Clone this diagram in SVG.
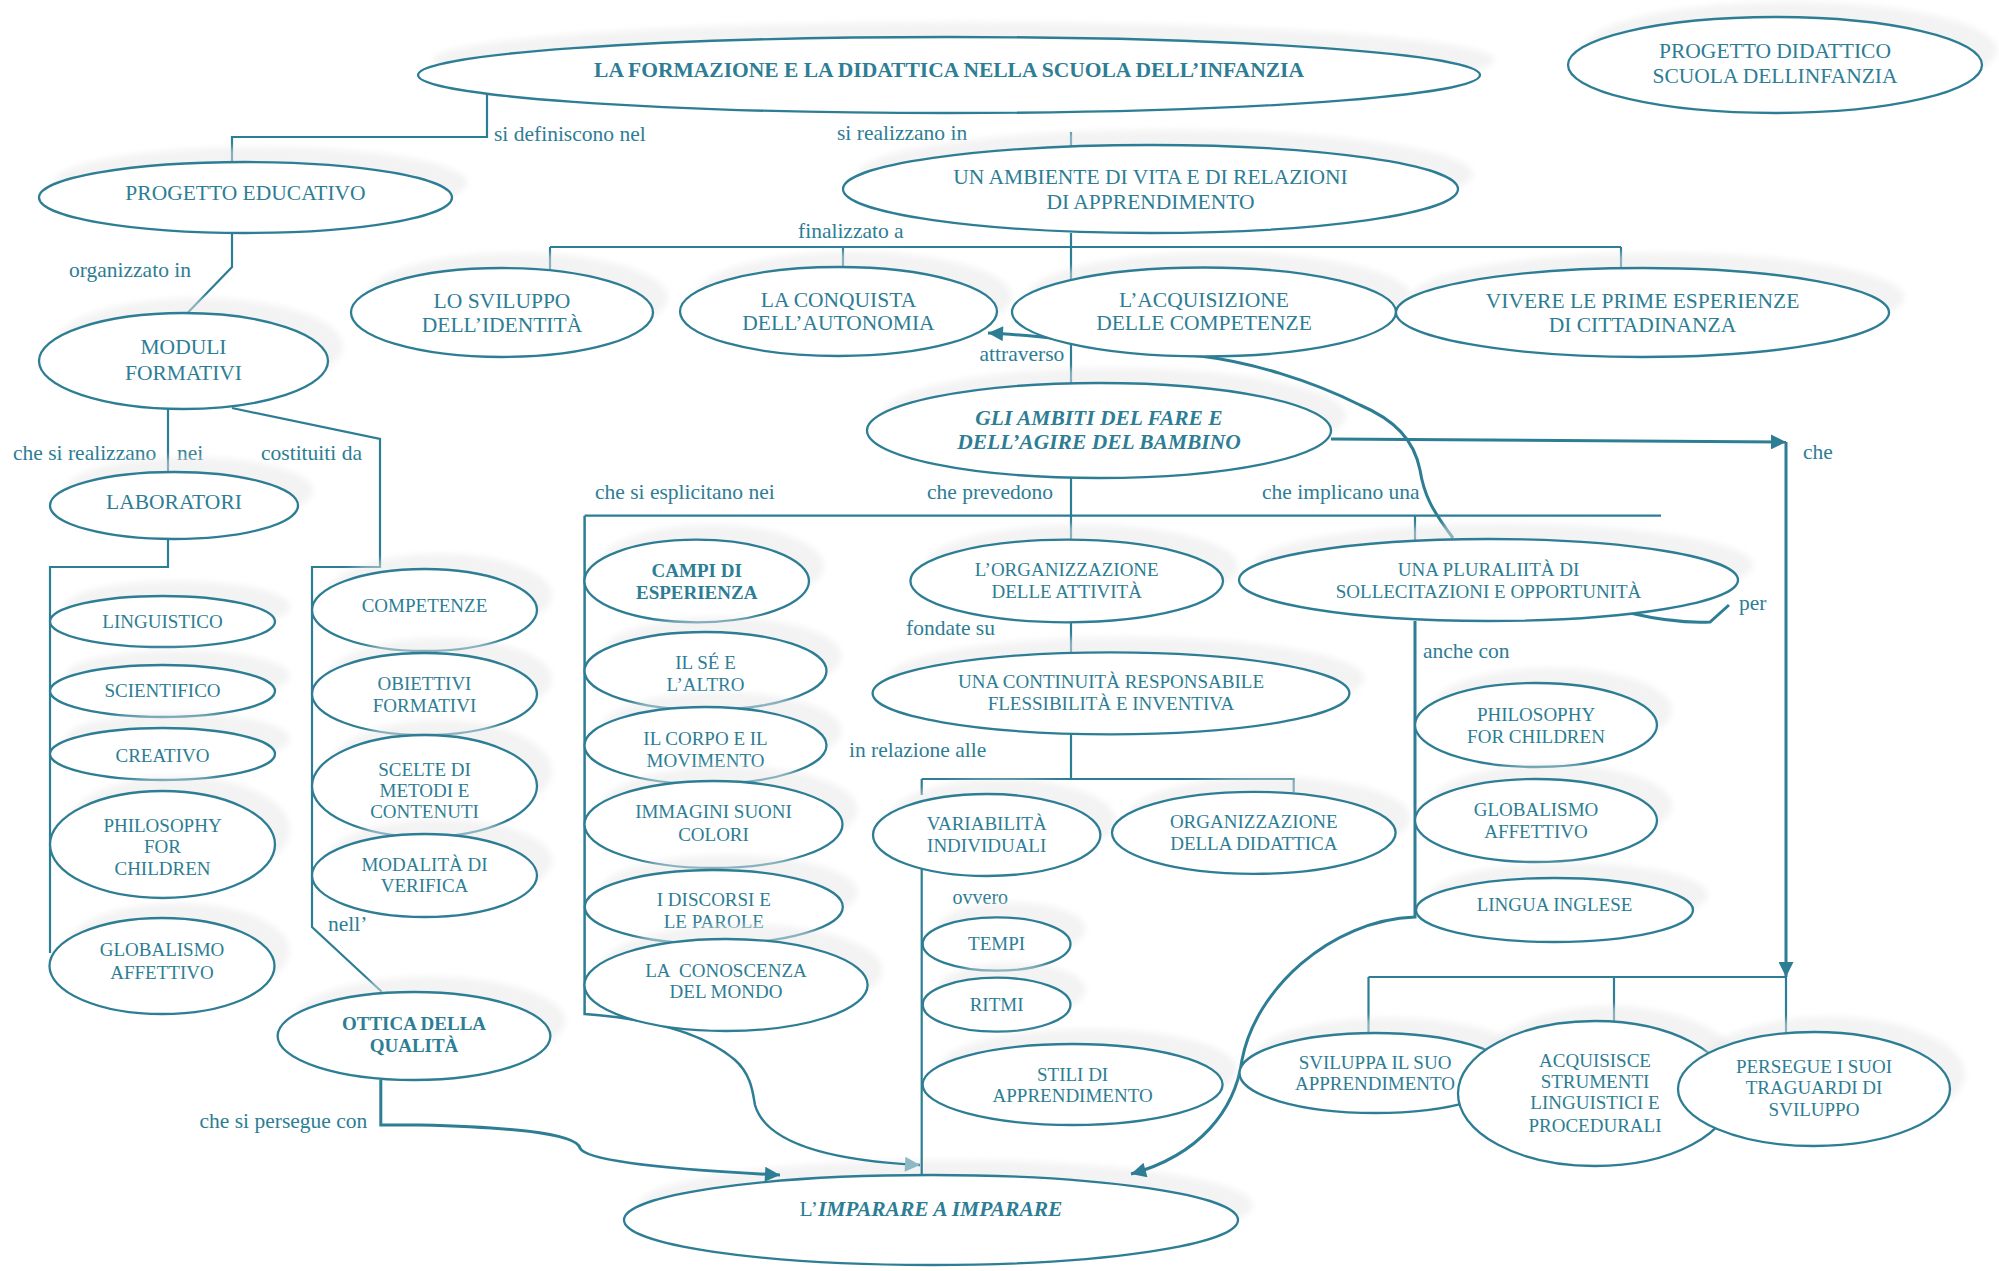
<svg xmlns="http://www.w3.org/2000/svg" width="1999" height="1271" viewBox="0 0 1999 1271">
<style>
  .sh { fill: #e8e8e8; fill-opacity: 0.5; filter: url(#soft); }
  .nd { fill: #ffffff; stroke: #2d7d94; stroke-width: 2.3; }
  text { font-family: "Liberation Serif", "Times New Roman", serif; font-size: 21.5px; fill: #2d7d94; text-anchor: middle; }
  .s { font-size: 19px; }
  .xs { font-size: 19px; }
  .b { font-weight: bold; }
  .bi { font-weight: bold; font-style: italic; }
  .lbl { text-anchor: start; }
  .ln { fill: none; stroke: #2d7d94; stroke-width: 2.2; }
  .th { fill: none; stroke: #2d7d94; stroke-width: 3; }
</style>
<defs>
  <filter id="soft" x="-10%" y="-40%" width="120%" height="180%">
    <feGaussianBlur stdDeviation="3"/>
  </filter>
  <marker id="ah" viewBox="0 0 10 10" refX="10" refY="5" markerWidth="16" markerHeight="15" markerUnits="userSpaceOnUse" orient="auto">
    <path d="M0,0 L10,5 L0,10 z" fill="#2d7d94"/>
  </marker>
  <marker id="ahl" viewBox="0 0 10 10" refX="10" refY="5" markerWidth="16" markerHeight="15" markerUnits="userSpaceOnUse" orient="auto">
    <path d="M0,0 L10,5 L0,10 z" fill="#8db8c6"/>
  </marker>
</defs>

<rect width="1999" height="1271" fill="#ffffff"/>

<!-- bottom target node, drawn under the arrows that reach it -->
<g id="n-imparare">
  <ellipse class="sh" cx="946" cy="1205" rx="307" ry="45"/>
  <ellipse class="nd" cx="931" cy="1220" rx="307" ry="45"/>
  <text x="931" y="1216">L’<tspan class="bi">IMPARARE A IMPARARE</tspan></text>
</g>

<g id="connectors">
  <path class="ln" d="M487,94 V137 H232 V163"/>
  <path class="ln" d="M1071,132 V146"/>
  <path class="ln" d="M1071,233 V383"/>
  <path class="ln" d="M550,247 H1621"/>
  <path class="ln" d="M550,247 V270 M843,247 V268 M1621,247 V269"/>
  <path class="ln" d="M232,233 V267 L187.5,313"/>
  <path class="ln" d="M168,409 V472"/>
  <path class="ln" d="M232,408 L380,439 V567 H312 V927 L381.7,991.7"/>
  <path class="ln" d="M168,539 V567 H50 V953"/>
  <path class="ln" d="M1071,478 V540"/>
  <path class="ln" d="M584.6,515.7 H1661"/>
  <path class="ln" d="M1415,515.7 V540"/>
  <path class="ln" d="M1071,622.7 V652.3"/>
  <path class="ln" d="M1071,734.3 V779 M921.7,779 H1293.7 V792 M921.7,779 V795"/>
  <path class="ln" d="M921.7,868 V1176"/>
  <path class="ln" d="M1368.5,977 H1786 M1368.5,977 V1033 M1614,977 V1022 M1786,977 V1033"/>
  <path class="ln" style="stroke-width:2.5" d="M584.6,515.7 V1014 C640,1018 700,1030 735,1060 C752,1075 753,1095 755,1105 C765,1140 820,1160 920,1165" marker-end="url(#ahl)"/>
  <path class="th" d="M1331,439 L1786,442" marker-end="url(#ah)"/>
  <path class="th" d="M1786,442 V977" marker-end="url(#ah)"/>
  <path class="th" d="M1415,621 V917 C1330,920 1255,990 1242,1060 C1235,1110 1200,1155 1131,1174" marker-end="url(#ah)"/>
  <path class="th" d="M380.8,1080 V1125 L420,1125 C500,1127 575,1132 580,1148 C586,1162 680,1170 780,1175" marker-end="url(#ah)"/>
  <path class="th" d="M1453,538 C1432,510 1424,495 1420,470 C1414,440 1395,420 1360,405 C1310,380 1250,362 1200,356 C1120,348 1060,336 988,333" marker-end="url(#ah)"/>
  <path class="th" d="M1630,613 C1660,620 1690,623 1710,622 L1729,605"/>
</g>

<g id="labels">
  <text class="lbl" x="494" y="141">si definiscono nel</text>
  <text class="lbl" x="837" y="140">si realizzano in</text>
  <text class="lbl" x="69" y="277">organizzato in</text>
  <text class="lbl" x="798" y="238">finalizzato a</text>
  <text class="lbl" x="979.5" y="361">attraverso</text>
  <text class="lbl" x="13" y="460">che si realizzano</text>
  <text class="lbl" x="177" y="460">nei</text>
  <text class="lbl" x="261" y="460">costituiti da</text>
  <text class="lbl" x="595" y="499">che si esplicitano nei</text>
  <text class="lbl" x="927" y="499">che prevedono</text>
  <text class="lbl" x="1262" y="499">che implicano una</text>
  <text class="lbl" x="1803" y="459">che</text>
  <text class="lbl" x="1739" y="610">per</text>
  <text class="lbl" x="906" y="635">fondate su</text>
  <text class="lbl" x="1423" y="658">anche con</text>
  <text class="lbl" x="849" y="757">in relazione alle</text>
  <text class="lbl" x="952.5" y="904" style="font-size:20px">ovvero</text>
  <text class="lbl" x="328" y="931">nell’</text>
  <text class="lbl" x="199.5" y="1128">che si persegue con</text>
</g>

<g id="n-title">
  <ellipse class="sh" cx="964" cy="60" rx="531" ry="38"/>
  <ellipse class="nd" cx="949" cy="75" rx="531" ry="38"/>
  <text class="b" x="949" y="77">LA FORMAZIONE E LA DIDATTICA NELLA SCUOLA DELL’INFANZIA</text>
</g>
<g id="n-progetto-didattico">
  <ellipse class="sh" cx="1790" cy="50" rx="207" ry="48"/>
  <ellipse class="nd" cx="1775" cy="65" rx="207" ry="48"/>
  <text x="1775" y="58">PROGETTO DIDATTICO<tspan x="1775" y="83">SCUOLA DELLINFANZIA</tspan></text>
</g>
<g id="n-progetto-educativo">
  <ellipse class="sh" cx="260.5" cy="182.5" rx="206.5" ry="35.5"/>
  <ellipse class="nd" cx="245.5" cy="197.5" rx="206.5" ry="35.5"/>
  <text x="245.5" y="200">PROGETTO EDUCATIVO</text>
</g>
<g id="n-ambiente">
  <ellipse class="sh" cx="1165.5" cy="174" rx="307.5" ry="44"/>
  <ellipse class="nd" cx="1150.5" cy="189" rx="307.5" ry="44"/>
  <text x="1150.5" y="184">UN AMBIENTE DI VITA E DI RELAZIONI<tspan x="1150.5" y="209">DI APPRENDIMENTO</tspan></text>
</g>
<g id="n-moduli">
  <ellipse class="sh" cx="198.5" cy="346" rx="144.5" ry="48"/>
  <ellipse class="nd" cx="183.5" cy="361" rx="144.5" ry="48"/>
  <text x="183.5" y="354">MODULI<tspan x="183.5" y="380">FORMATIVI</tspan></text>
</g>
<g id="n-sviluppo-identita">
  <ellipse class="sh" cx="517" cy="297.5" rx="151" ry="44.5"/>
  <ellipse class="nd" cx="502" cy="312.5" rx="151" ry="44.5"/>
  <text x="502" y="308">LO SVILUPPO<tspan x="502" y="332">DELL’IDENTITÀ</tspan></text>
</g>
<g id="n-conquista">
  <ellipse class="sh" cx="853.5" cy="296.5" rx="158.5" ry="44.5"/>
  <ellipse class="nd" cx="838.5" cy="311.5" rx="158.5" ry="44.5"/>
  <text x="838.5" y="307">LA CONQUISTA<tspan x="838.5" y="330">DELL’AUTONOMIA</tspan></text>
</g>
<g id="n-acquisizione">
  <ellipse class="sh" cx="1219" cy="297" rx="192" ry="44.5"/>
  <ellipse class="nd" cx="1204" cy="312" rx="192" ry="44.5"/>
  <text x="1204" y="307">L’ACQUISIZIONE<tspan x="1204" y="330">DELLE COMPETENZE</tspan></text>
</g>
<g id="n-vivere">
  <ellipse class="sh" cx="1657.5" cy="297.5" rx="246.5" ry="44.5"/>
  <ellipse class="nd" cx="1642.5" cy="312.5" rx="246.5" ry="44.5"/>
  <text x="1642.5" y="308">VIVERE LE PRIME ESPERIENZE<tspan x="1642.5" y="332">DI CITTADINANZA</tspan></text>
</g>
<g id="n-ambiti">
  <ellipse class="sh" cx="1114" cy="415.5" rx="232" ry="47.5"/>
  <ellipse class="nd" cx="1099" cy="430.5" rx="232" ry="47.5"/>
  <text class="bi" x="1099" y="425">GLI AMBITI DEL FARE E<tspan x="1099" y="449">DELL’AGIRE DEL BAMBINO</tspan></text>
</g>
<g id="n-laboratori">
  <ellipse class="sh" cx="189" cy="490.5" rx="124" ry="33.5"/>
  <ellipse class="nd" cx="174" cy="505.5" rx="124" ry="33.5"/>
  <text x="174" y="509">LABORATORI</text>
</g>
<g id="n-linguistico">
  <ellipse class="sh" cx="177.5" cy="606.5" rx="112.5" ry="25.5"/>
  <ellipse class="nd" cx="162.5" cy="621.5" rx="112.5" ry="25.5"/>
  <text class="s" x="162.5" y="628">LINGUISTICO</text>
</g>
<g id="n-scientifico">
  <ellipse class="sh" cx="177.5" cy="676" rx="112.5" ry="26"/>
  <ellipse class="nd" cx="162.5" cy="691" rx="112.5" ry="26"/>
  <text class="s" x="162.5" y="697">SCIENTIFICO</text>
</g>
<g id="n-creativo">
  <ellipse class="sh" cx="177.5" cy="739" rx="112.5" ry="26"/>
  <ellipse class="nd" cx="162.5" cy="754" rx="112.5" ry="26"/>
  <text class="s" x="162.5" y="762">CREATIVO</text>
</g>
<g id="n-philosophy-lab">
  <ellipse class="sh" cx="177.5" cy="829.5" rx="112.5" ry="53.5"/>
  <ellipse class="nd" cx="162.5" cy="844.5" rx="112.5" ry="53.5"/>
  <text class="s" x="162.5" y="832">PHILOSOPHY<tspan x="162.5" y="853">FOR</tspan><tspan x="162.5" y="875">CHILDREN</tspan></text>
</g>
<g id="n-globalismo-lab">
  <ellipse class="sh" cx="177" cy="951" rx="112.5" ry="48"/>
  <ellipse class="nd" cx="162" cy="966" rx="112.5" ry="48"/>
  <text class="s" x="162" y="956">GLOBALISMO<tspan x="162" y="979">AFFETTIVO</tspan></text>
</g>
<g id="n-competenze">
  <ellipse class="sh" cx="439.5" cy="595" rx="112.5" ry="41"/>
  <ellipse class="nd" cx="424.5" cy="610" rx="112.5" ry="41"/>
  <text class="s" x="424.5" y="612">COMPETENZE</text>
</g>
<g id="n-obiettivi">
  <ellipse class="sh" cx="439.5" cy="679" rx="112.5" ry="41"/>
  <ellipse class="nd" cx="424.5" cy="694" rx="112.5" ry="41"/>
  <text class="s" x="424.5" y="690">OBIETTIVI<tspan x="424.5" y="712">FORMATIVI</tspan></text>
</g>
<g id="n-scelte">
  <ellipse class="sh" cx="439.5" cy="771" rx="112.5" ry="51"/>
  <ellipse class="nd" cx="424.5" cy="786" rx="112.5" ry="51"/>
  <text class="s" x="424.5" y="776">SCELTE DI<tspan x="424.5" y="797">METODI E</tspan><tspan x="424.5" y="818">CONTENUTI</tspan></text>
</g>
<g id="n-modalita">
  <ellipse class="sh" cx="439.5" cy="860.5" rx="112.5" ry="41.5"/>
  <ellipse class="nd" cx="424.5" cy="875.5" rx="112.5" ry="41.5"/>
  <text class="s" x="424.5" y="871">MODALITÀ DI<tspan x="424.5" y="892">VERIFICA</tspan></text>
</g>
<g id="n-ottica">
  <ellipse class="sh" cx="429" cy="1021" rx="136.4" ry="44"/>
  <ellipse class="nd" cx="414" cy="1036" rx="136.4" ry="44"/>
  <text class="s b" x="414" y="1030">OTTICA DELLA<tspan x="414" y="1052">QUALITÀ</tspan></text>
</g>
<g id="n-campi">
  <ellipse class="sh" cx="711.7" cy="566" rx="112.3" ry="41.3"/>
  <ellipse class="nd" cx="696.7" cy="581" rx="112.3" ry="41.3"/>
  <text class="s b" x="696.7" y="577">CAMPI DI<tspan x="696.7" y="599">ESPERIENZA</tspan></text>
</g>
<g id="n-se-altro">
  <ellipse class="sh" cx="720.5" cy="656" rx="121" ry="39"/>
  <ellipse class="nd" cx="705.5" cy="671" rx="121" ry="39"/>
  <text class="s" x="705.5" y="669">IL SÉ E<tspan x="705.5" y="691">L’ALTRO</tspan></text>
</g>
<g id="n-corpo">
  <ellipse class="sh" cx="720.5" cy="730.5" rx="121" ry="38.5"/>
  <ellipse class="nd" cx="705.5" cy="745.5" rx="121" ry="38.5"/>
  <text class="s" x="705.5" y="745">IL CORPO E IL<tspan x="705.5" y="767">MOVIMENTO</tspan></text>
</g>
<g id="n-immagini">
  <ellipse class="sh" cx="728.5" cy="809.5" rx="129" ry="43.5"/>
  <ellipse class="nd" cx="713.5" cy="824.5" rx="129" ry="43.5"/>
  <text class="s" x="713.5" y="818">IMMAGINI SUONI<tspan x="713.5" y="841">COLORI</tspan></text>
</g>
<g id="n-discorsi">
  <ellipse class="sh" cx="728.8" cy="892" rx="129" ry="37"/>
  <ellipse class="nd" cx="713.8" cy="907" rx="129" ry="37"/>
  <text class="s" x="713.8" y="906">I DISCORSI E<tspan x="713.8" y="928">LE PAROLE</tspan></text>
</g>
<g id="n-conoscenza">
  <ellipse class="sh" cx="741" cy="970" rx="141.6" ry="46"/>
  <ellipse class="nd" cx="726" cy="985" rx="141.6" ry="46"/>
  <text class="s" x="726" y="977" xml:space="preserve">LA  CONOSCENZA<tspan x="726" y="998">DEL MONDO</tspan></text>
</g>
<g id="n-organizzazione-attivita">
  <ellipse class="sh" cx="1081.7" cy="566" rx="156.3" ry="41.3"/>
  <ellipse class="nd" cx="1066.7" cy="581" rx="156.3" ry="41.3"/>
  <text class="s" x="1066.7" y="576">L’ORGANIZZAZIONE<tspan x="1066.7" y="598">DELLE ATTIVITÀ</tspan></text>
</g>
<g id="n-pluralita">
  <ellipse class="sh" cx="1503.5" cy="565" rx="249.5" ry="41"/>
  <ellipse class="nd" cx="1488.5" cy="580" rx="249.5" ry="41"/>
  <text class="xs" x="1488.5" y="576">UNA PLURALIITÀ DI<tspan x="1488.5" y="598">SOLLECITAZIONI E OPPORTUNITÀ</tspan></text>
</g>
<g id="n-continuita">
  <ellipse class="sh" cx="1126" cy="678.3" rx="238.4" ry="41"/>
  <ellipse class="nd" cx="1111" cy="693.3" rx="238.4" ry="41"/>
  <text class="s" x="1111" y="688">UNA CONTINUITÀ RESPONSABILE<tspan x="1111" y="710">FLESSIBILITÀ E INVENTIVA</tspan></text>
</g>
<g id="n-variabilita">
  <ellipse class="sh" cx="1001.7" cy="820" rx="113.7" ry="41"/>
  <ellipse class="nd" cx="986.7" cy="835" rx="113.7" ry="41"/>
  <text class="s" x="986.7" y="830">VARIABILITÀ<tspan x="986.7" y="852">INDIVIDUALI</tspan></text>
</g>
<g id="n-organizzazione-didattica">
  <ellipse class="sh" cx="1268.8" cy="817.8" rx="141.8" ry="41"/>
  <ellipse class="nd" cx="1253.8" cy="832.8" rx="141.8" ry="41"/>
  <text class="s" x="1253.8" y="828">ORGANIZZAZIONE<tspan x="1253.8" y="850">DELLA DIDATTICA</tspan></text>
</g>
<g id="n-tempi">
  <ellipse class="sh" cx="1011.6" cy="929" rx="73.9" ry="26.7"/>
  <ellipse class="nd" cx="996.6" cy="944" rx="73.9" ry="26.7"/>
  <text class="s" x="996.6" y="950">TEMPI</text>
</g>
<g id="n-ritmi">
  <ellipse class="sh" cx="1011.6" cy="989.7" rx="73.9" ry="27"/>
  <ellipse class="nd" cx="996.6" cy="1004.7" rx="73.9" ry="27"/>
  <text class="s" x="996.6" y="1011">RITMI</text>
</g>
<g id="n-stili">
  <ellipse class="sh" cx="1087.6" cy="1069.5" rx="150" ry="40.5"/>
  <ellipse class="nd" cx="1072.6" cy="1084.5" rx="150" ry="40.5"/>
  <text class="s" x="1072.6" y="1081">STILI DI<tspan x="1072.6" y="1102">APPRENDIMENTO</tspan></text>
</g>
<g id="n-philosophy">
  <ellipse class="sh" cx="1551" cy="710" rx="121" ry="42"/>
  <ellipse class="nd" cx="1536" cy="725" rx="121" ry="42"/>
  <text class="s" x="1536" y="721">PHILOSOPHY<tspan x="1536" y="743">FOR CHILDREN</tspan></text>
</g>
<g id="n-globalismo">
  <ellipse class="sh" cx="1551" cy="805.5" rx="121" ry="41.5"/>
  <ellipse class="nd" cx="1536" cy="820.5" rx="121" ry="41.5"/>
  <text class="s" x="1536" y="816">GLOBALISMO<tspan x="1536" y="838">AFFETTIVO</tspan></text>
</g>
<g id="n-lingua">
  <ellipse class="sh" cx="1569.5" cy="895" rx="138.5" ry="32"/>
  <ellipse class="nd" cx="1554.5" cy="910" rx="138.5" ry="32"/>
  <text class="s" x="1554.5" y="911">LINGUA INGLESE</text>
</g>
<g id="n-sviluppa">
  <ellipse class="sh" cx="1390" cy="1058" rx="135.5" ry="40"/>
  <ellipse class="nd" cx="1375" cy="1073" rx="135.5" ry="40"/>
  <text class="s" x="1375" y="1069">SVILUPPA IL SUO<tspan x="1375" y="1090">APPRENDIMENTO</tspan></text>
</g>
<g id="n-acquisisce">
  <ellipse class="sh" cx="1610" cy="1078.5" rx="137" ry="72.5"/>
  <ellipse class="nd" cx="1595" cy="1093.5" rx="137" ry="72.5"/>
  <text class="s" x="1595" y="1067">ACQUISISCE<tspan x="1595" y="1088">STRUMENTI</tspan><tspan x="1595" y="1109">LINGUISTICI E</tspan><tspan x="1595" y="1132">PROCEDURALI</tspan></text>
</g>
<g id="n-persegue">
  <ellipse class="sh" cx="1829" cy="1074" rx="136" ry="57"/>
  <ellipse class="nd" cx="1814" cy="1089" rx="136" ry="57"/>
  <text class="s" x="1814" y="1073">PERSEGUE I SUOI<tspan x="1814" y="1094">TRAGUARDI DI</tspan><tspan x="1814" y="1116">SVILUPPO</tspan></text>
</g>
</svg>
